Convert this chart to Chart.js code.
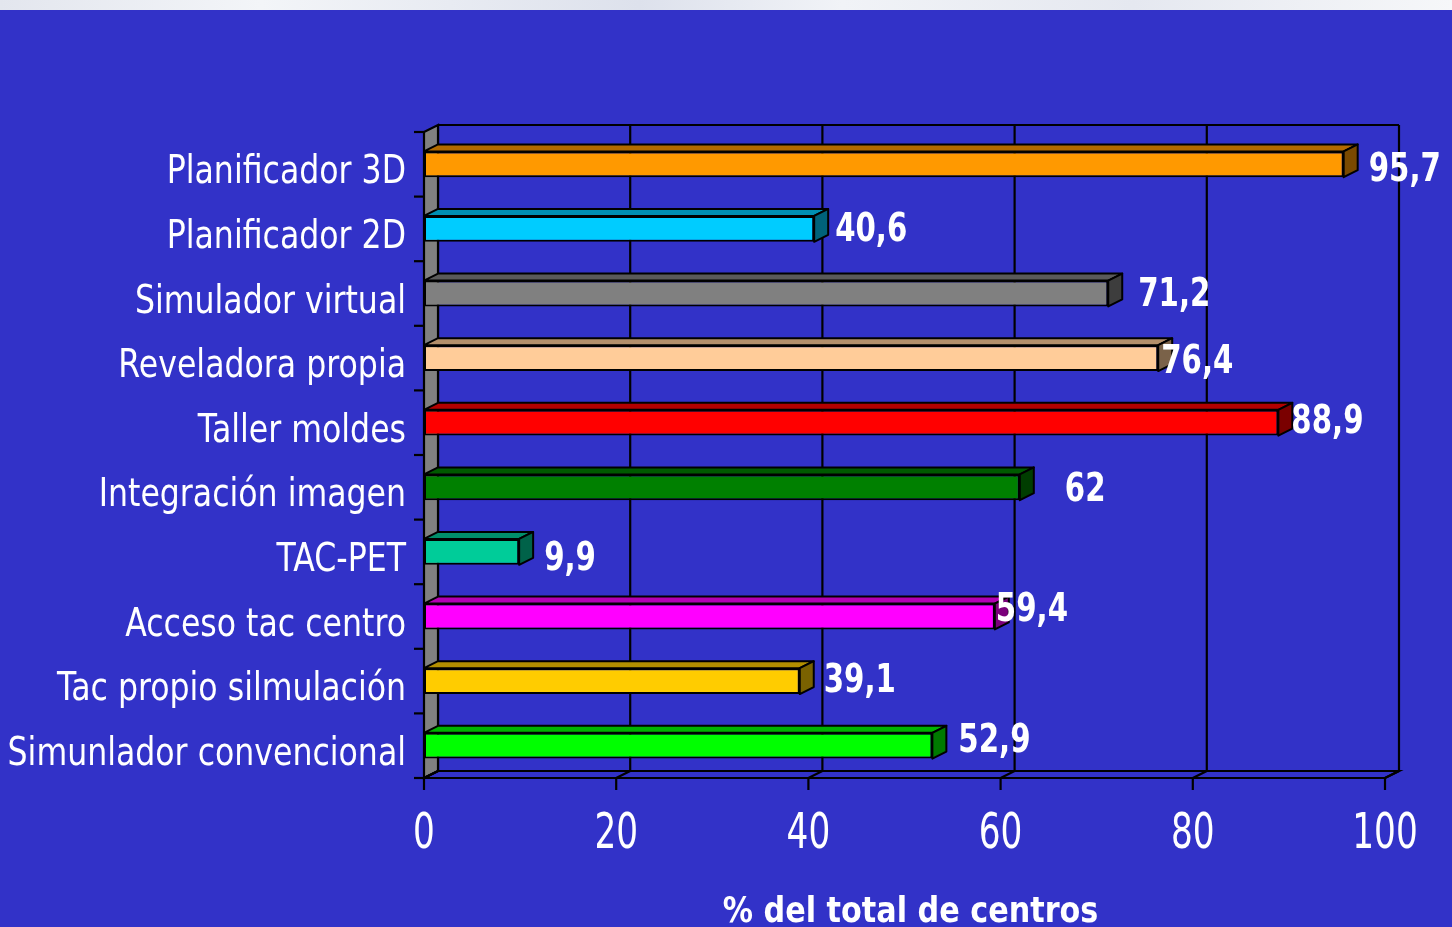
<!DOCTYPE html>
<html>
<head>
<meta charset="utf-8">
<script src="https://cdn.jsdelivr.net/npm/chart.js@4.4.1/dist/chart.umd.min.js"></script>
<style>
    html, body { margin: 0; padding: 0; background: #3232c8; overflow: hidden; }
    #wrap { position: absolute; left: 0; top: 0; width: 1452px; height: 927px; }
    #strip {
        position: absolute; left: 0; top: 0; width: 1452px; height: 10px;
        background: linear-gradient(90deg, #e3e6ee, #f3f5f8 18%, #dde1ec 44%, #f1f3f7 58%, #e5e8f0 78%, #f6f7f9);
    }
</style>
</head>
<body>
<div id="wrap"><canvas id="chart" width="1452" height="927"></canvas></div>
<div id="strip"></div>
<script>
const categories = [
    'Planificador 3D',
    'Planificador 2D',
    'Simulador virtual',
    'Reveladora propia',
    'Taller moldes',
    'Integración imagen',
    'TAC-PET',
    'Acceso tac centro',
    'Tac propio silmulación',
    'Simunlador convencional'
];
const values = [95.7, 40.6, 71.2, 76.4, 88.9, 62, 9.9, 59.4, 39.1, 52.9];
const tickValues = [0, 20, 40, 60, 80, 100];
const axisTitle = '% del total de centros';

const barColors = ['#ff9900', '#00ccff', '#808080', '#ffcc99', '#ff0000',
                   '#008000', '#00cc99', '#ff00ff', '#ffcc00', '#00ff00'];

// label nudges (px) so the value labels sit where the original put them
const labelNudgeX = [11, 7, 16, -11, -1, 31, 11, -13, 10, 12];
const labelNudgeY = [3, -2, -2, 1, -4, 0, 4, -10, -3, -8];

const DX = 14;  // depth of the 3D effect
const DY = 7;

function shade(hex, f) {
    const n = parseInt(hex.slice(1), 16);
    const r = Math.round(((n >> 16) & 255) * f);
    const g = Math.round(((n >> 8) & 255) * f);
    const b = Math.round((n & 255) * f);
    return `rgb(${r},${g},${b})`;
}

function poly(ctx, pts, fill) {
    ctx.beginPath();
    ctx.moveTo(pts[0][0], pts[0][1]);
    for (let i = 1; i < pts.length; i++) ctx.lineTo(pts[i][0], pts[i][1]);
    ctx.closePath();
    if (fill) {
        ctx.fillStyle = fill;
        ctx.fill();
    }
    ctx.stroke();
}

function line(ctx, x1, y1, x2, y2) {
    ctx.beginPath();
    ctx.moveTo(x1, y1);
    ctx.lineTo(x2, y2);
    ctx.stroke();
}

// squeezed text, the original font is a narrow Verdana look
function text(ctx, str, x, y, font, sx, align) {
    ctx.save();
    ctx.font = font;
    ctx.fillStyle = '#ffffff';
    ctx.textAlign = align;
    ctx.textBaseline = 'alphabetic';
    ctx.translate(x, y);
    ctx.scale(sx, 1);
    ctx.fillText(str, 0, 0);
    ctx.restore();
}

const threeD = {
    id: 'threeD',
    beforeDatasetsDraw(chart) {
        const { ctx, chartArea: a, scales: { x, y } } = chart;
        ctx.save();
        ctx.strokeStyle = '#000';
        ctx.lineWidth = 2.2;

        // back wall grid
        tickValues.forEach(t => {
            const px = x.getPixelForValue(t) + DX;
            line(ctx, px, a.top - DY, px, a.bottom - DY);
        });
        line(ctx, a.left + DX, a.top - DY, a.right + DX, a.top - DY);

        // left wall
        poly(ctx, [[a.left, a.top], [a.left + DX, a.top - DY], [a.left + DX, a.bottom - DY], [a.left, a.bottom]], '#808080');

        // floor
        poly(ctx, [[a.left, a.bottom], [a.left + DX, a.bottom - DY], [a.right + DX, a.bottom - DY], [a.right, a.bottom]], null);
        tickValues.forEach(t => {
            const px = x.getPixelForValue(t);
            line(ctx, px, a.bottom, px + DX, a.bottom - DY);
            line(ctx, px, a.bottom, px, a.bottom + 12);
        });

        // category ticks
        for (let i = 0; i <= categories.length; i++) {
            const py = y.getPixelForValue(i - 0.5);
            line(ctx, a.left - 10, py, a.left, py);
        }
        ctx.restore();
    },
    afterDatasetsDraw(chart) {
        const { ctx } = chart;
        const meta = chart.getDatasetMeta(0);
        ctx.save();
        ctx.strokeStyle = '#000';
        ctx.lineWidth = 2;
        ctx.lineJoin = 'round';
        meta.data.forEach((bar, i) => {
            const top = bar.y - bar.height / 2;
            const bottom = bar.y + bar.height / 2;
            const x0 = bar.base;
            const x1 = bar.x;
            poly(ctx, [[x0, top], [x0 + DX, top - DY], [x1 + DX, top - DY], [x1, top]], shade(barColors[i], 0.7));
            poly(ctx, [[x1, top], [x1 + DX, top - DY], [x1 + DX, bottom - DY], [x1, bottom]], shade(barColors[i], 0.48));
        });
        ctx.restore();
    },
    afterDraw(chart) {
        const { ctx, chartArea: a, scales: { x, y } } = chart;
        const meta = chart.getDatasetMeta(0);

        // value labels
        meta.data.forEach((bar, i) => {
            const label = String(values[i]).replace('.', ',');
            text(ctx, label, bar.x + DX + labelNudgeX[i], bar.y + 14 + labelNudgeY[i],
                 'bold 39px "DejaVu Sans"', 0.75, 'left');
        });

        // category labels
        categories.forEach((c, i) => {
            text(ctx, c, a.left - 18, y.getPixelForValue(i) + 19, '38.5px "DejaVu Sans"', 0.82, 'right');
        });

        // value axis labels
        tickValues.forEach(t => {
            text(ctx, String(t), x.getPixelForValue(t), a.bottom + 70, '49px "DejaVu Sans"', 0.7, 'center');
        });

        // axis title
        text(ctx, axisTitle, (a.left + a.right) / 2 + 6, 922, 'bold 36px "DejaVu Sans"', 0.84, 'center');
    }
};

new Chart(document.getElementById('chart'), {
    type: 'bar',
    data: {
        labels: categories,
        datasets: [{
            data: values,
            backgroundColor: barColors,
            borderColor: '#000000',
            borderWidth: 2,
            borderSkipped: false,
            barPercentage: 0.4,
            categoryPercentage: 1
        }]
    },
    options: {
        indexAxis: 'y',
        responsive: false,
        animation: false,
        devicePixelRatio: 1,
        events: [],
        layout: {
            padding: { left: 0, right: 67, top: 132, bottom: 0 }
        },
        plugins: {
            legend: { display: false },
            tooltip: { enabled: false }
        },
        scales: {
            x: {
                min: 0,
                max: 100,
                ticks: { display: false, stepSize: 20 },
                grid: { display: false },
                border: { display: false },
                afterFit: scale => { scale.height = 149; }
            },
            y: {
                ticks: { display: false },
                grid: { display: false },
                border: { display: false },
                afterFit: scale => { scale.width = 424; }
            }
        }
    },
    plugins: [threeD]
});
</script>
</body>
</html>
